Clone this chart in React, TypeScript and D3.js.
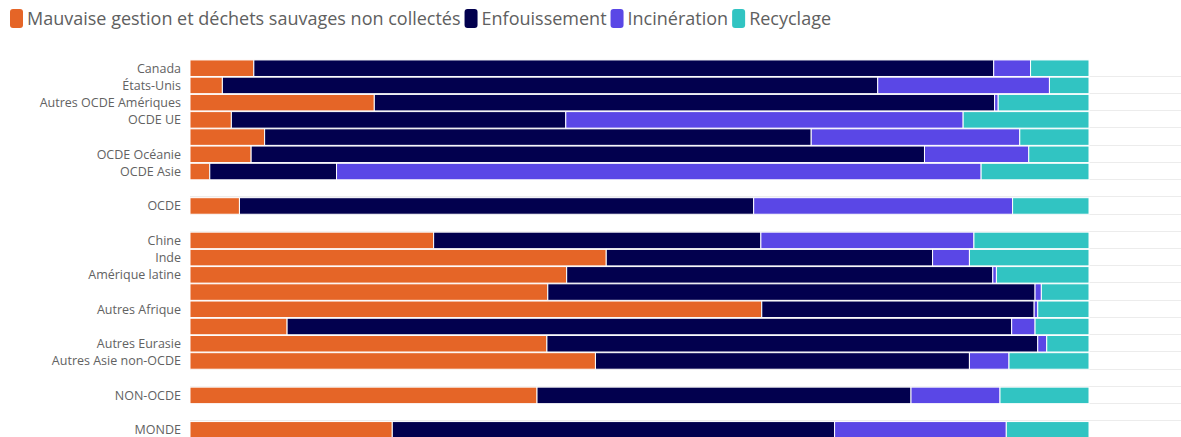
import React, { useEffect, useRef } from 'react';
import * as d3 from 'd3';

// Rows, top to bottom ("" = blank spacer row)
const categories = [
  'Canada', 'États-Unis', 'Autres OCDE Amériques', 'OCDE UE', 'OCDE Europe non-UE',
  'OCDE Océanie', 'OCDE Asie', '', 'OCDE', '',
  'Chine', 'Inde', 'Amérique latine', 'Moyen-Orient et Afrique du Nord', 'Autres Afrique',
  'UE non-OCDE', 'Autres Eurasie', 'Autres Asie non-OCDE', '', 'NON-OCDE', '', 'MONDE',
];
// Labels that are actually shown on the axis (long ones are hidden)
const tickLabels = [
  'Canada', 'États-Unis', 'Autres OCDE Amériques', 'OCDE UE', '',
  'OCDE Océanie', 'OCDE Asie', '', 'OCDE', '',
  'Chine', 'Inde', 'Amérique latine', '', 'Autres Afrique',
  '', 'Autres Eurasie', 'Autres Asie non-OCDE', '', 'NON-OCDE', '', 'MONDE',
];

const seriesNames = ['Mauvaise gestion et déchets sauvages non collectés', 'Enfouissement', 'Incinération', 'Recyclage'];
const seriesColors = ['#e56527', '#02004e', '#5a47e6', '#31c4c2'];

// shares in %, null for spacer rows
const mauvaiseGestion = [7.1, 3.6, 20.5, 4.6, 8.3, 6.8, 2.2, null, 5.5, null, 27.1, 46.3, 41.9, 39.8, 63.6, 10.8, 39.7, 45.1, null, 38.6, null, 22.5];
const enfouissement = [82.3, 72.9, 69.0, 37.2, 60.8, 74.9, 14.1, null, 57.2, null, 36.4, 36.3, 47.4, 54.2, 30.3, 80.6, 54.6, 41.6, null, 41.6, null, 49.2];
const incineration = [4.1, 19.1, 0.4, 44.2, 23.2, 11.6, 71.7, null, 28.8, null, 23.7, 4.1, 0.4, 0.7, 0.4, 2.6, 1.0, 4.4, null, 9.9, null, 19.1];
const recyclage = [6.5, 4.4, 10.1, 14.0, 7.7, 6.7, 12.0, null, 8.5, null, 12.8, 13.3, 10.3, 5.3, 5.7, 6.0, 4.7, 8.9, null, 9.9, null, 9.2];

const W = 1181;
const H = 437;

const App = () => {
  const ref = useRef<SVGSVGElement>(null);

  useEffect(() => {
    const svg = d3.select(ref.current);
    svg.selectAll('*').remove();

    const font = '"Open Sans", "Noto Sans", sans-serif';
    const left = 190;
    const barRight = 1089;
    const top = 59.6;
    const step = 17.22;

    const rows = categories.map((c, i) => ({
      i,
      values: [mauvaiseGestion[i], enfouissement[i], incineration[i], recyclage[i]],
    }));

    const x = d3.scaleLinear().domain([0, 100]).range([left, barRight]);
    const y = d3.scaleBand<number>()
      .domain(categories.map((_, i) => i))
      .range([top, top + step * categories.length])
      .paddingInner(0.04)
      .paddingOuter(0.02);

    // gridlines between rows
    svg.append('g')
      .selectAll('line')
      .data(d3.range(1, categories.length + 1))
      .join('line')
      .attr('x1', left)
      .attr('x2', W)
      .attr('y1', (i) => Math.round(top + i * step) - 0.5)
      .attr('y2', (i) => Math.round(top + i * step) - 0.5)
      .attr('stroke', '#ececec')
      .attr('stroke-width', 1);

    const keys = [0, 1, 2, 3];
    const stacked = d3.stack<any, number>()
      .keys(keys)
      .value((d, k) => d.values[k] ?? 0)(rows.filter((r) => r.values[0] !== null));

    svg.append('g')
      .selectAll('g')
      .data(stacked)
      .join('g')
      .attr('fill', (s) => seriesColors[s.key])
      .selectAll('rect')
      .data((s) => s)
      .join('rect')
      .attr('x', (d) => x(d[0]))
      .attr('width', (d) => Math.max(0, x(d[1]) - x(d[0])))
      .attr('y', (d) => y(d.data.i)!)
      .attr('height', y.bandwidth())
      .attr('stroke', '#ffffff')
      .attr('stroke-width', 1);

    // axis labels
    svg.append('g')
      .selectAll('text')
      .data(tickLabels.map((t, i) => ({ t, i })).filter((d) => d.t))
      .join('text')
      .attr('x', 181)
      .attr('y', (d) => y(d.i)! + y.bandwidth() / 2)
      .attr('dy', '0.35em')
      .attr('text-anchor', 'end')
      .attr('font-family', font)
      .attr('font-size', 12.5)
      .attr('fill', '#626262')
      .text((d) => d.t);

    // legend
    const legend = svg.append('g');
    let lx = 10;
    seriesNames.forEach((name, k) => {
      legend.append('rect')
        .attr('x', lx)
        .attr('y', 9)
        .attr('width', 13)
        .attr('height', 19)
        .attr('rx', 3)
        .attr('fill', seriesColors[k]);
      const t = legend.append('text')
        .attr('x', lx + 17)
        .attr('y', 25)
        .attr('font-family', font)
        .attr('font-size', 18)
        .attr('fill', '#606060')
        .text(name);
      const w = (t.node() as SVGTextElement).getComputedTextLength();
      lx += 17 + w + 4;
    });
  }, []);

  return (
    <svg
      ref={ref}
      width={W}
      height={H}
      style={{ position: 'absolute', left: 0, top: 0, background: '#ffffff' }}
    />
  );
};

export default App;
